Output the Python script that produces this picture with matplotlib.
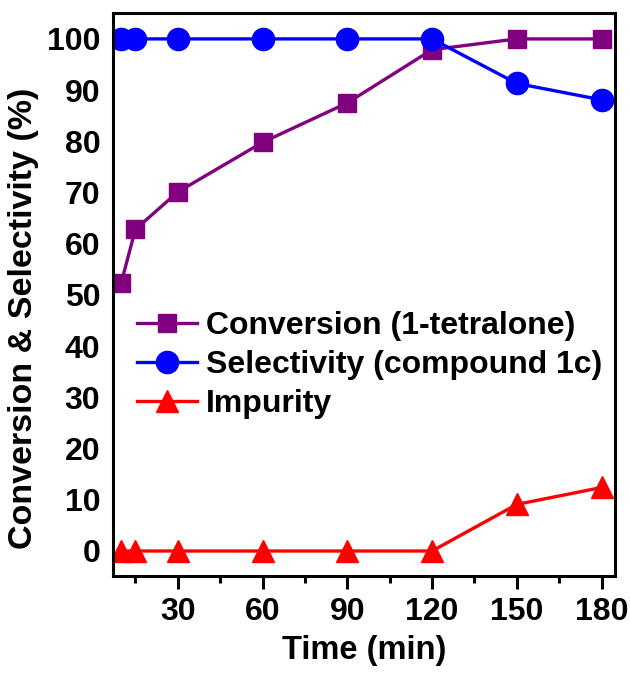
import matplotlib
matplotlib.use("Agg")
import matplotlib.pyplot as plt
from matplotlib.ticker import MultipleLocator

# ==========================
# Data
# ==========================
time_min = [10, 15, 30, 60, 90, 120, 150, 180]
conversion = [52.4, 62.8, 70.1, 79.8, 87.5, 97.9, 100, 100]
selectivity = [100, 100, 100, 100, 100, 100, 91.3, 88.1]
impurity = [0, 0, 0, 0, 0, 0, 9.1, 12.4]

x_ticks = [30, 60, 90, 120, 150, 180]
y_ticks = [0, 10, 20, 30, 40, 50, 60, 70, 80, 90, 100]

plt.rcParams['font.family'] = ['Liberation Sans', 'DejaVu Sans']
plt.rcParams['font.weight'] = 'bold'

fig = plt.figure(figsize=(6.3, 6.73), dpi=100)
ax = fig.add_axes([0.179, 0.144, 0.797, 0.837])

ax.plot(time_min, conversion, color='#800080', marker='s', markersize=13,
        linewidth=2.4, label='Conversion (1-tetralone)')
ax.plot(time_min, selectivity, color='#0000FF', marker='o', markersize=16,
        linewidth=2.4, label='Selectivity (compound 1c)')
ax.plot(time_min, impurity, color='#FF0000', marker='^', markersize=16,
        linewidth=2.4, label='Impurity')

ax.set_xlim(7, 184.7)
ax.set_ylim(-4.9, 105.1)
ax.set_xticks(x_ticks)
ax.xaxis.set_minor_locator(MultipleLocator(15))
ax.set_yticks(y_ticks)

ax.tick_params(axis='x', which='major', direction='out', length=9, width=2.2,
               labelsize=23, pad=6)
ax.tick_params(axis='x', which='minor', direction='out', length=5, width=2.2)
ax.tick_params(axis='y', which='major', length=0, labelsize=23, pad=9)

for spine in ax.spines.values():
    spine.set_linewidth(2.2)

ax.set_xlabel('Time (min)', fontsize=23.5, fontweight='bold', labelpad=6)
ax.set_ylabel('Conversion & Selectivity (%)', fontsize=24.5, fontweight='bold')
ax.yaxis.set_label_coords(-0.147, 0.458)

ax.legend(loc='upper left', bbox_to_anchor=(0.035, 0.482), frameon=False,
          fontsize=23, handlelength=1.9, handletextpad=0.28,
          labelspacing=0.28, borderaxespad=0, borderpad=0.2)

plt.savefig('out.png', dpi=100)
